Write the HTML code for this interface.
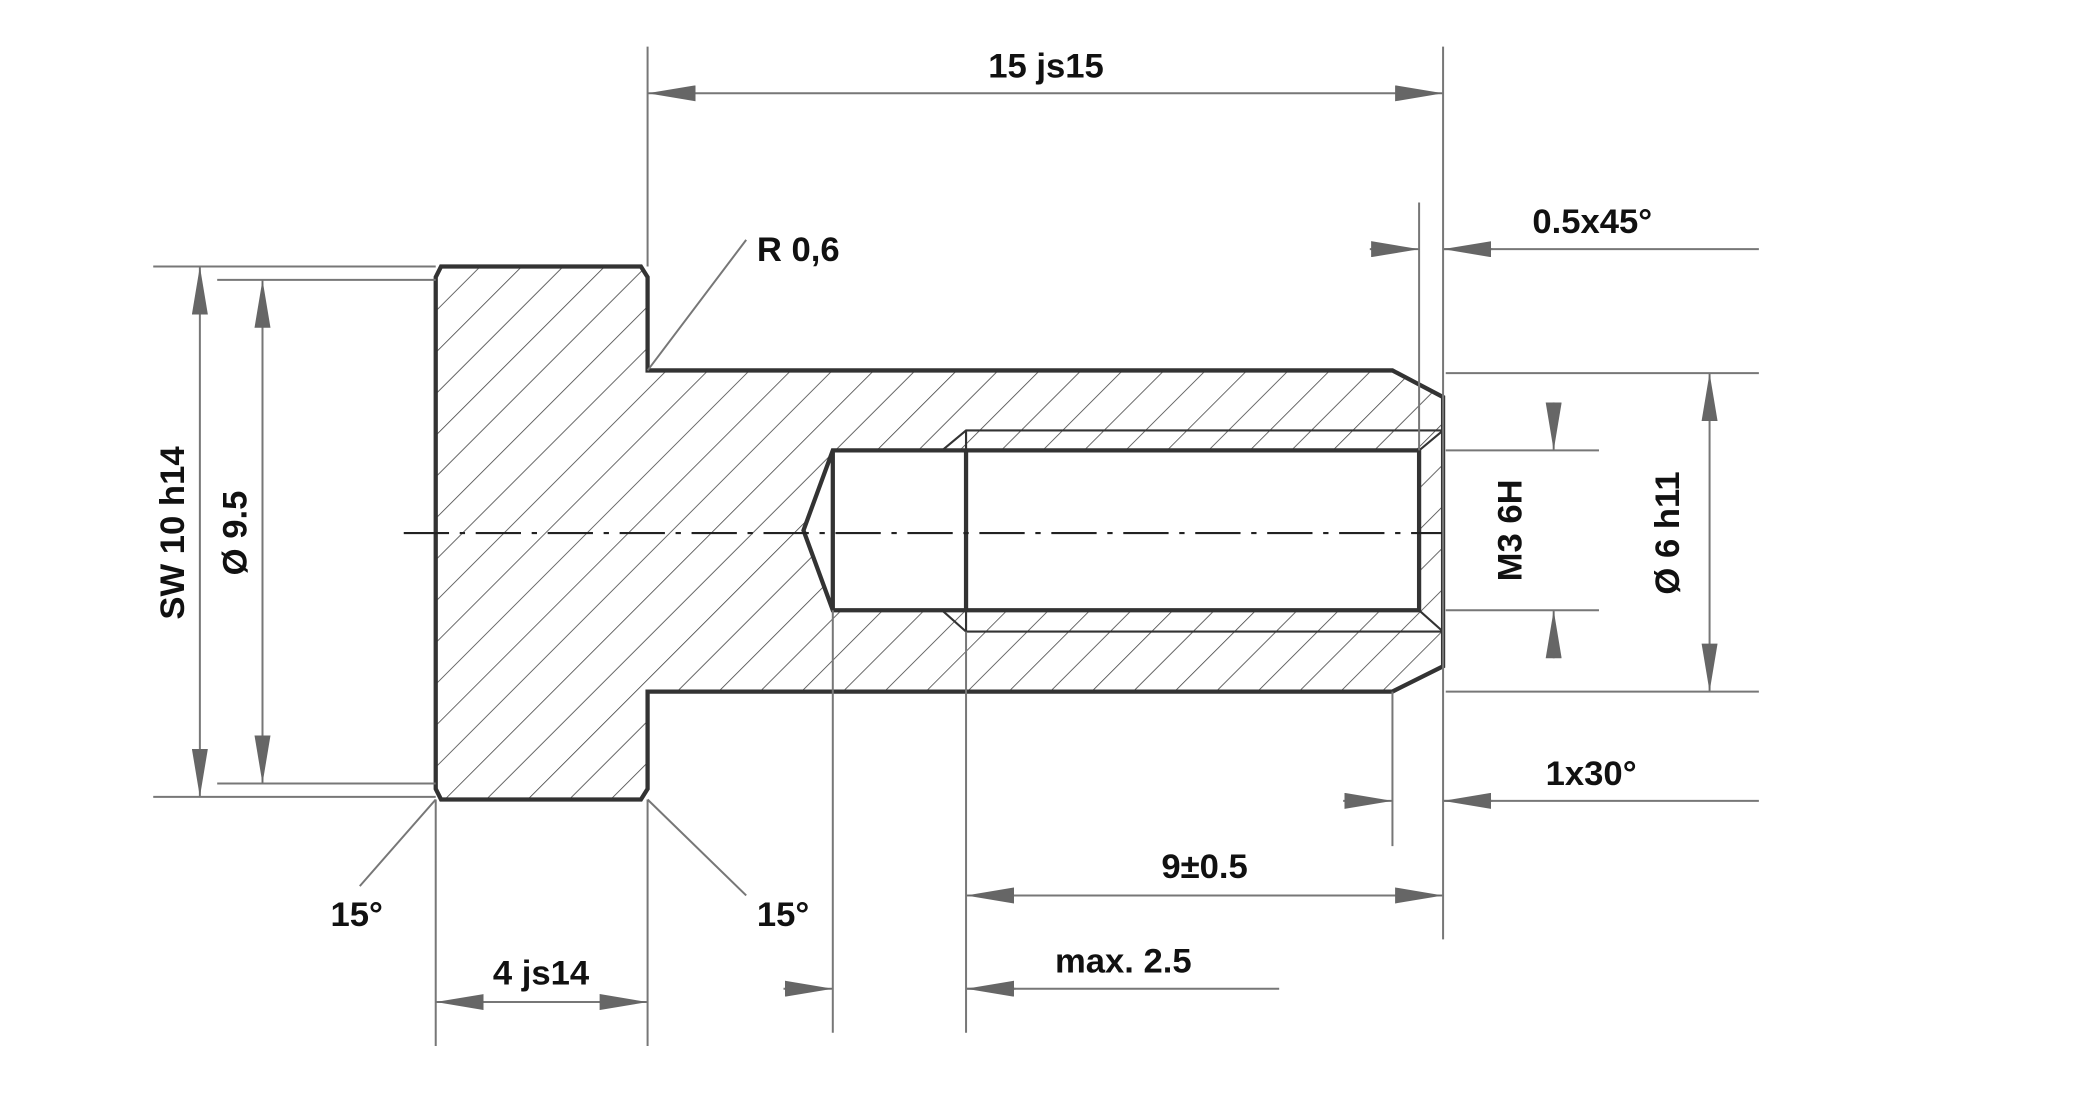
<!DOCTYPE html>
<html><head><meta charset="utf-8"><style>
html,body{margin:0;padding:0;background:#fff;}
svg{display:block;}
text{font-family:"Liberation Sans",Arial,sans-serif;font-weight:bold;font-size:26px;fill:#111;}
</style></head><body>
<svg width="2088" height="1094" viewBox="0 0 1567 821" preserveAspectRatio="none" xmlns="http://www.w3.org/2000/svg">
<defs>
<marker id="a" viewBox="0 0 36 12" refX="36" refY="6" markerWidth="36" markerHeight="12" markerUnits="userSpaceOnUse" orient="auto-start-reverse">
<path d="M0,0 L36,6 L0,12 Z" fill="#666"/></marker>
<pattern id="h" patternUnits="userSpaceOnUse" width="22" height="22" patternTransform="rotate(45)">
<line x1="0" y1="0" x2="0" y2="22" stroke="#444" stroke-width="1.2"/></pattern>
<clipPath id="c"><path d="M331,200 L481,200 L486,208 L486,278 L1045,278 L1083,298 L1083,500 L1045,519 L486,519 L486,592 L481,600 L331,600 L327,592 L327,208 Z"/></clipPath>
</defs>
<g clip-path="url(#c)">
<rect x="300" y="190" width="800" height="420" fill="url(#h)"/>
<path d="M603,398 L625,338 L1065,338 L1065,458 L625,458 Z" fill="#fff"/>
</g>
<path d="M331,200 L481,200 L486,208 L486,278 L1045,278 L1083,298 L1083,500 L1045,519 L486,519 L486,592 L481,600 L331,600 L327,592 L327,208 Z" fill="none" stroke="#333" stroke-width="3.2"/>
<path d="M625,338 L1065,338 L1065,458 L625,458 L603,398 Z M625,338 L625,458 M725,338 L725,458" fill="none" stroke="#333" stroke-width="3.2"/>
<g stroke="#333" stroke-width="1.6" fill="none">
<path d="M707,338 L725,323 L1083,323 M707,458 L725,474 L1083,474 M725,323 L725,474 M1065,338 L1083,323 M1065,458 L1083,474"/>
</g>
<line x1="303" y1="400" x2="1083" y2="400" stroke="#222" stroke-width="1.6" stroke-dasharray="34,8,4,8"/>
<g stroke="#777" stroke-width="1.5" fill="none">
<path d="M486,35 V200 M1083,35 V705 M115,200 H327 M115,598 H327 M163,210 H327 M163,588 H327
M1085,280 H1320 M1085,519 H1320 M1085,338 H1200 M1085,458 H1200 M1065,152 V338 M1045,519 V635
M725,474 V775 M625,458 V775 M327,600 V785 M486,600 V785
M486,278 L560,180 M327,600 L270,665 M486,600 L560,672
M1083,187 H1320 M1083,601 H1320 M725,742 H960"/>
</g>
<g stroke="#777" stroke-width="1.5" fill="none">
<line x1="486" y1="70" x2="1083" y2="70" marker-start="url(#a)" marker-end="url(#a)"/>
<line x1="150" y1="200" x2="150" y2="598" marker-start="url(#a)" marker-end="url(#a)"/>
<line x1="197" y1="210" x2="197" y2="588" marker-start="url(#a)" marker-end="url(#a)"/>
<line x1="1283" y1="280" x2="1283" y2="519" marker-start="url(#a)" marker-end="url(#a)"/>
<line x1="1166" y1="302" x2="1166" y2="338" marker-end="url(#a)"/>
<line x1="1166" y1="494" x2="1166" y2="458" marker-end="url(#a)"/>
<line x1="1028" y1="187" x2="1065" y2="187" marker-end="url(#a)"/>
<line x1="1120" y1="187" x2="1083" y2="187" marker-end="url(#a)"/>
<line x1="1008" y1="601" x2="1045" y2="601" marker-end="url(#a)"/>
<line x1="1120" y1="601" x2="1083" y2="601" marker-end="url(#a)"/>
<line x1="725" y1="672" x2="1083" y2="672" marker-start="url(#a)" marker-end="url(#a)"/>
<line x1="588" y1="742" x2="625" y2="742" marker-end="url(#a)"/>
<line x1="762" y1="742" x2="725" y2="742" marker-end="url(#a)"/>
<line x1="327" y1="752" x2="486" y2="752" marker-start="url(#a)" marker-end="url(#a)"/>
</g>
<text x="785" y="58" text-anchor="middle">15 js15</text>
<text x="568" y="196">R 0,6</text>
<text x="1150" y="175">0.5x45°</text>
<text x="1160" y="589">1x30°</text>
<text x="904" y="659" text-anchor="middle">9±0.5</text>
<text x="843" y="730" text-anchor="middle">max. 2.5</text>
<text x="406" y="739" text-anchor="middle">4 js14</text>
<text x="248" y="695">15°</text>
<text x="568" y="695">15°</text>
<text transform="translate(138,400) rotate(-90)" text-anchor="middle">SW 10 h14</text>
<text transform="translate(185,400) rotate(-90)" text-anchor="middle">Ø 9.5</text>
<text transform="translate(1142,398) rotate(-90)" text-anchor="middle">M3 6H</text>
<text transform="translate(1260,400) rotate(-90)" text-anchor="middle">Ø 6 h11</text>
</svg>
</body></html>
